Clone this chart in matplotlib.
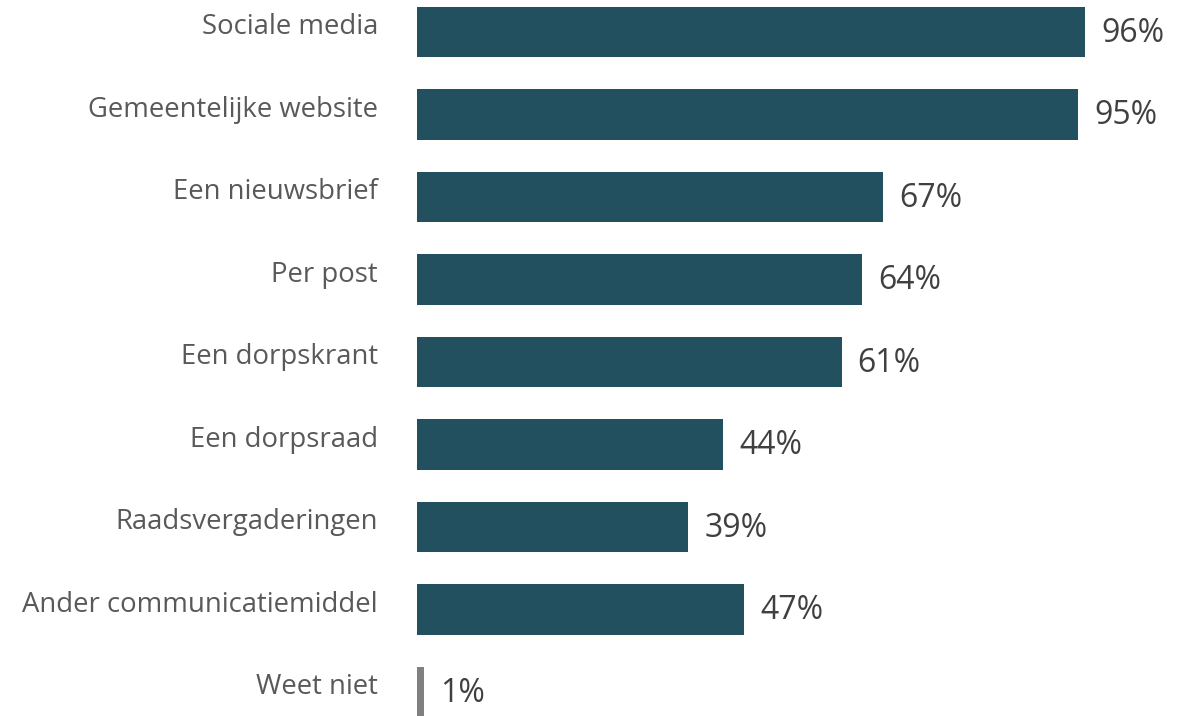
import matplotlib.pyplot as plt

categories = ['Sociale media', 'Gemeentelijke website', 'Een nieuwsbrief', 'Per post',
              'Een dorpskrant', 'Een dorpsraad', 'Raadsvergaderingen',
              'Ander communicatiemiddel', 'Weet niet']
values = [96, 95, 67, 64, 61, 44, 39, 47, 1]
colors = ['#23505f'] * 8 + ['#808080']

plt.rcParams['font.family'] = ['Open Sans', 'DejaVu Sans']

fig = plt.figure(figsize=(11.92, 7.16), dpi=100)
ax = fig.add_axes([0.3498, 0, 0.584, 1])

pos = list(range(len(categories)))
ax.barh(pos, values, height=0.61, color=colors)

for i, (cat, v) in enumerate(zip(categories, values)):
    ax.annotate(cat, xy=(0, i), xytext=(-39, 5), textcoords='offset pixels',
                ha='right', va='center', fontsize=19.8, color='#595959')
    ax.annotate(f'{v}%', xy=(v, i), xytext=(16, -1), textcoords='offset pixels',
                ha='left', va='center', fontsize=23, color='#404040')

ax.set_xlim(0, 100)
ax.set_ylim(8.29, -0.388)
ax.axis('off')

fig.savefig('out.png', dpi=100)
